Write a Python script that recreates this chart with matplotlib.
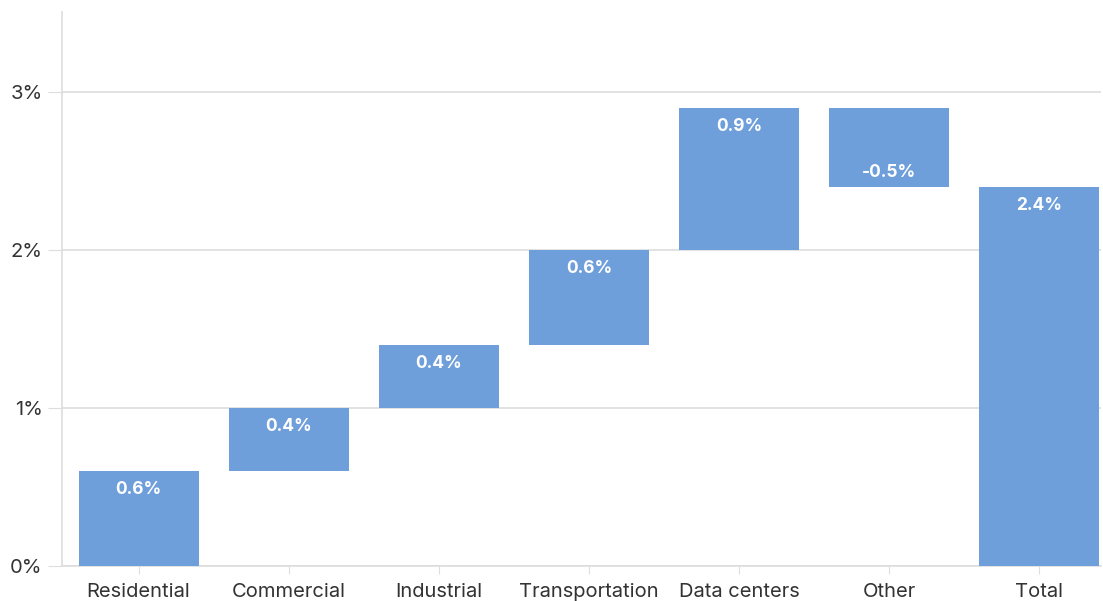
import matplotlib
matplotlib.use("Agg")
import matplotlib.pyplot as plt
from matplotlib.ticker import FuncFormatter
import numpy as np

categories = ["Residential", "Commercial", "Industrial", "Transportation", "Data centers", "Other", "Total"]
changes = [0.6, 0.4, 0.4, 0.6, 0.9, -0.5]
total = 2.4
labels = ["0.6%", "0.4%", "0.4%", "0.6%", "0.9%", "-0.5%", "2.4%"]

plt.rcParams['font.family'] = ['Inter', 'DejaVu Sans']

bottoms = []
heights = []
run = 0.0
for c in changes:
    bottoms.append(run)
    heights.append(c)
    run += c
bottoms.append(0.0)
heights.append(total)

color = "#6f9fdb"
fig = plt.figure(figsize=(11.03, 6.01), dpi=100)
ax = fig.add_axes([62/1103, 1 - 566/601, (1101-62)/1103, (566-12)/601])

x = np.arange(len(categories))
ax.bar(x, heights, bottom=bottoms, width=0.8, color=color, zorder=3)

for i, (b, h, lab) in enumerate(zip(bottoms, heights, labels)):
    if h >= 0:
        y = b + h - 0.115
    else:
        y = b + h + 0.09
    ax.text(i, y, lab, ha="center", va="center", color="white", fontsize=12.5,
            fontweight="bold", zorder=4)

ax.set_ylim(0, 3.51)
ax.set_xlim(-0.51, 6.41)
ax.set_yticks([0, 1, 2, 3])
ax.yaxis.set_major_formatter(FuncFormatter(lambda v, p: f"{v:.0f}%"))
ax.set_xticks(x)
ax.set_xticklabels(categories)
ax.grid(axis="y", color="#dddddd", linewidth=1.2, zorder=0)
for s in ["top", "right"]:
    ax.spines[s].set_visible(False)
for s in ["left", "bottom"]:
    ax.spines[s].set_color("#dddddd")
    ax.spines[s].set_linewidth(1.2)
ax.tick_params(axis="y", length=10, color="#dddddd", labelsize=14.5, labelcolor="#333333", pad=4)
ax.tick_params(axis="x", length=6, color="#dddddd", labelsize=14.5, labelcolor="#333333", pad=6)

fig.savefig("out.png", dpi=100)
